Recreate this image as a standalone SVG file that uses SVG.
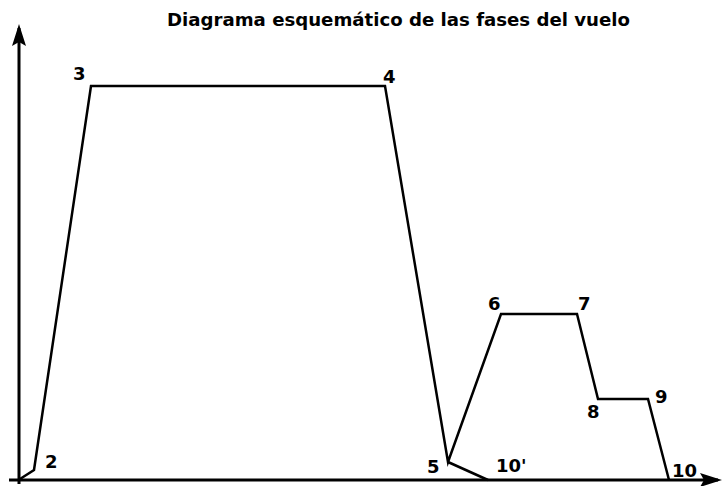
<svg xmlns="http://www.w3.org/2000/svg" width="723" height="486" viewBox="0 0 723 486">
<defs>
<style>
.lbl{font-family:"DejaVu Sans",sans-serif;font-weight:bold;font-size:18px;fill:#000}
.ttl{font-family:"DejaVu Sans",sans-serif;font-weight:bold;font-size:18px;fill:#000}
.ax{stroke:#000;stroke-width:3;fill:none}
.pl{stroke:#000;stroke-width:2.5;fill:none;stroke-linejoin:miter}
</style>
</defs>
<rect width="723" height="486" fill="#fff"/>
<text class="ttl" x="167" y="26" textLength="463" lengthAdjust="spacingAndGlyphs">Diagrama esquemático de las fases del vuelo</text>
<g id="connectors">
<path class="ax" d="M19,484 L19,28"/>
<path d="M19,24 L26,46 L19,42 L12,46 Z" fill="#000"/>
<path class="ax" d="M9,480 L718,480"/>
<path d="M722,480 L700,487 L704,480 L700,473 Z" fill="#000"/>
<polyline class="pl" points="20,479 34,470 91,86 385,86 448,462 501,314 577,314 598,399 648,399 669,480"/>
<polyline class="pl" points="448,462 488,480"/>
</g>
<g id="labels">
<text class="lbl" x="45" y="468">2</text>
<text class="lbl" x="73" y="80">3</text>
<text class="lbl" x="383" y="83">4</text>
<text class="lbl" x="427" y="473">5</text>
<text class="lbl" x="488" y="310">6</text>
<text class="lbl" x="578" y="310">7</text>
<text class="lbl" x="587" y="418">8</text>
<text class="lbl" x="655" y="403">9</text>
<text class="lbl" x="496" y="472">10'</text>
<text class="lbl" x="672" y="477">10</text>
</g>
</svg>
